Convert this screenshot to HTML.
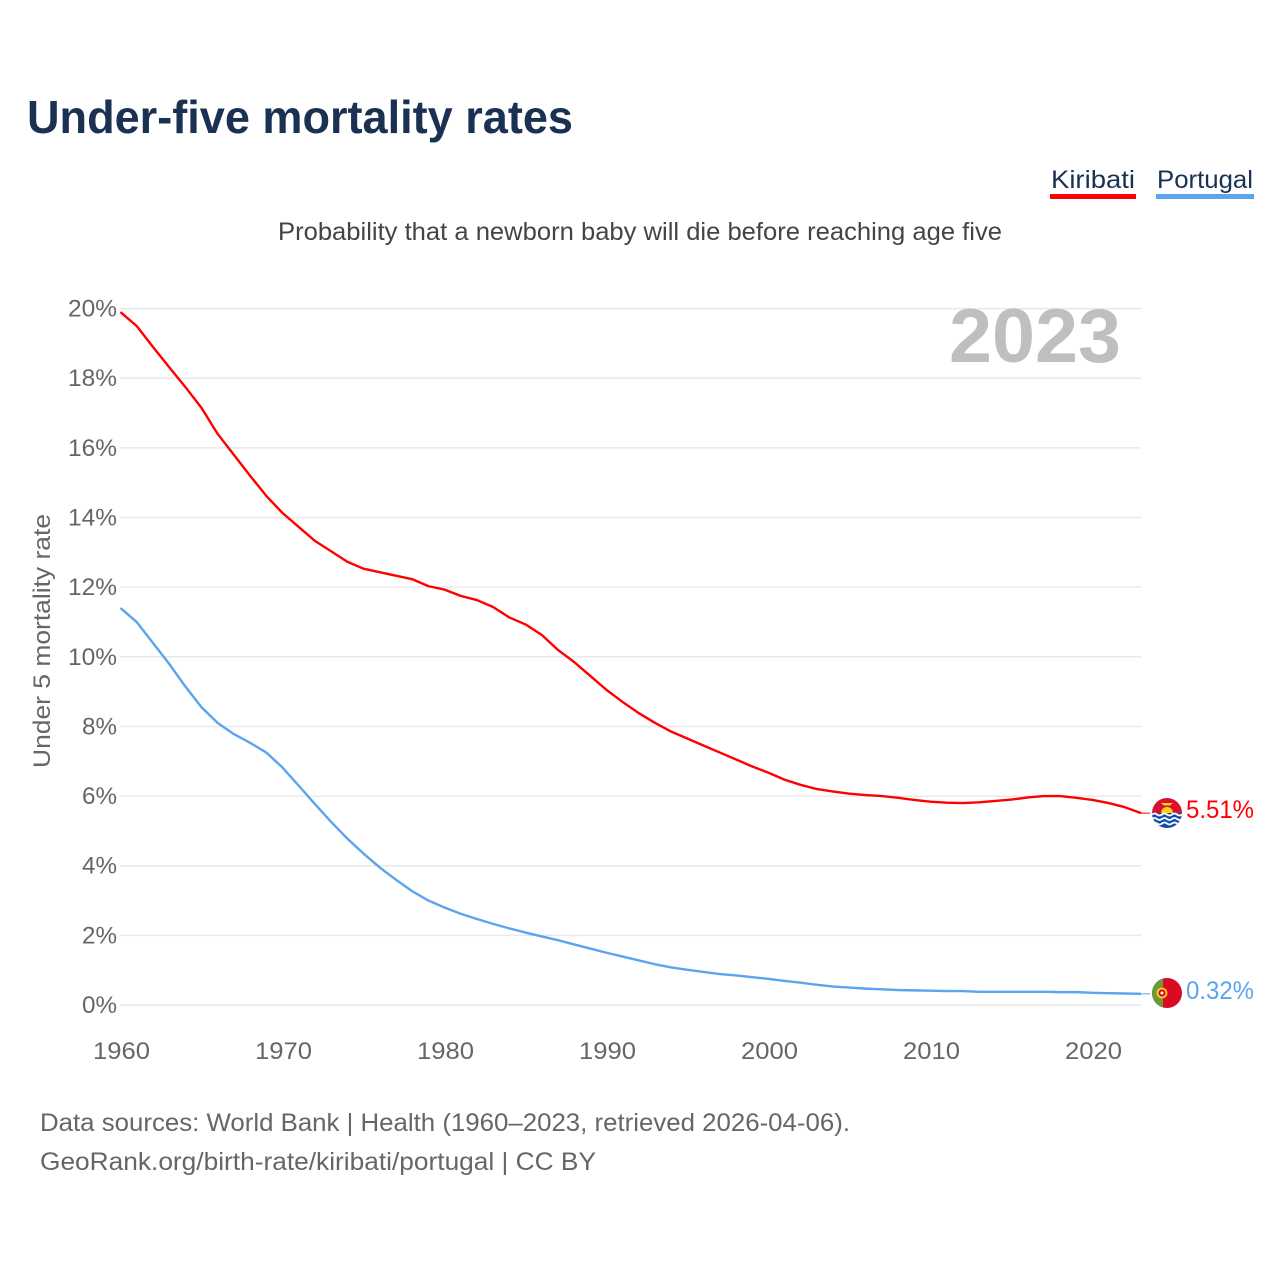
<!DOCTYPE html>
<html lang="en">
<head>
<meta charset="utf-8">
<title>Under-five mortality rates</title>
<style>
html,body{margin:0;padding:0;background:#fff;width:1280px;height:1280px;overflow:hidden}
svg{display:block}
text{font-family:"Liberation Sans",sans-serif}
</style>
</head>
<body>
<svg id="chart" xmlns="http://www.w3.org/2000/svg" width="1280" height="1280" viewBox="0 0 1280 1280">
  <rect width="1280" height="1280" fill="#fff"/>
  <text x="27" y="133" font-size="46" font-weight="700" fill="#1a3152" textLength="546" lengthAdjust="spacingAndGlyphs">Under-five mortality rates</text>
  <text x="1051" y="188" font-size="25" fill="#1a3152" textLength="84" lengthAdjust="spacingAndGlyphs">Kiribati</text>
  <rect x="1050" y="194" width="86" height="5" fill="#ff0000"/>
  <text x="1157" y="188" font-size="25" fill="#1a3152" textLength="96" lengthAdjust="spacingAndGlyphs">Portugal</text>
  <rect x="1156" y="194" width="98" height="5" fill="#5ba4ee"/>
  <text x="278" y="240" font-size="25" fill="#444" textLength="724" lengthAdjust="spacingAndGlyphs">Probability that a newborn baby will die before reaching age five</text>
  <g id="grid"></g>
  <g id="yticks"></g>
  <g id="xticks"></g>
  <text transform="translate(50,641) rotate(-90)" text-anchor="middle" font-size="24" fill="#666" textLength="254" lengthAdjust="spacingAndGlyphs">Under 5 mortality rate</text>
  <text x="949" y="362" font-size="76" font-weight="700" fill="#bfbfbf" textLength="172" lengthAdjust="spacingAndGlyphs">2023</text>
  <g id="series"></g>

  <g>
    <clipPath id="clipK"><circle cx="1167" cy="813" r="15"/></clipPath>
    <g clip-path="url(#clipK)">
      <rect x="1152" y="798" width="30" height="15" fill="#d9112e"/>
      <circle cx="1167" cy="813" r="6" fill="#fcd116"/>
      <path d="M1161 803h12l-3 2.500h-6z" fill="#fcd116"/>
      <rect x="1152" y="813" width="30" height="16" fill="#0f4fa8"/>
      <path d="M1152 814.500q2.500-2 5 0t5 0 5 0 5 0 5 0 5 0M1152 819q2.500-2 5 0t5 0 5 0 5 0 5 0 5 0M1152 823.500q2.500-2 5 0t5 0 5 0 5 0 5 0 5 0" fill="none" stroke="#fff" stroke-width="1.800"/>
    </g>
  </g>
  <g>
    <clipPath id="clipP"><circle cx="1167" cy="993" r="15"/></clipPath>
    <g clip-path="url(#clipP)">
      <rect x="1152" y="978" width="30" height="30" fill="#da0a24"/>
      <rect x="1152" y="978" width="11" height="30" fill="#6a9a3a"/>
      <circle cx="1162" cy="993" r="4.500" fill="#da0a24" stroke="#fcd116" stroke-width="1.800"/>
      <circle cx="1162" cy="993" r="1.500" fill="#fff"/>
    </g>
  </g>
  <text id="valK" x="1186" y="818" font-size="25" fill="#ff0000" textLength="68" lengthAdjust="spacingAndGlyphs"></text>
  <text id="valP" x="1186" y="999" font-size="25" fill="#5ba4ee" textLength="68" lengthAdjust="spacingAndGlyphs"></text>

  <text x="40" y="1131" font-size="25" fill="#666" textLength="810" lengthAdjust="spacingAndGlyphs">Data sources: World Bank | Health (1960–2023, retrieved 2026-04-06).</text>
  <text x="40" y="1170" font-size="25" fill="#666" textLength="556" lengthAdjust="spacingAndGlyphs">GeoRank.org/birth-rate/kiribati/portugal | CC BY</text>
</svg>
<script>
const firstYear = 1960;
const yTicks = [0, 2, 4, 6, 8, 10, 12, 14, 16, 18, 20];
const xTicks = [1960, 1970, 1980, 1990, 2000, 2010, 2020];
const kiribati = [19.9,19.5,18.9,18.32,17.75,17.15,16.4,15.8,15.2,14.62,14.13,13.73,13.33,13.03,12.73,12.53,12.43,12.33,12.23,12.03,11.93,11.75,11.63,11.43,11.13,10.93,10.63,10.2,9.85,9.45,9.05,8.7,8.38,8.1,7.85,7.65,7.45,7.25,7.05,6.85,6.67,6.47,6.32,6.2,6.13,6.07,6.03,6.0,5.95,5.89,5.84,5.81,5.8,5.82,5.86,5.9,5.96,6.0,6.0,5.95,5.89,5.8,5.68,5.51];
const portugal = [11.4,11.0,10.4,9.8,9.15,8.55,8.1,7.78,7.53,7.25,6.82,6.3,5.77,5.26,4.78,4.35,3.95,3.6,3.27,3.0,2.8,2.62,2.47,2.33,2.2,2.08,1.97,1.86,1.74,1.62,1.5,1.39,1.28,1.17,1.08,1.01,0.95,0.89,0.85,0.8,0.75,0.69,0.64,0.58,0.53,0.5,0.47,0.45,0.43,0.42,0.41,0.4,0.4,0.38,0.38,0.38,0.38,0.38,0.37,0.37,0.35,0.34,0.33,0.32];

const NS = 'http://www.w3.org/2000/svg';
const xScale = function (year) { return 120.5 + (year - firstYear) * 16.2; };
const yScale = function (v) { return 1005 - v * 34.82; };
const plotRight = xScale(firstYear + kiribati.length - 1);

const gridGroup = document.getElementById('grid');
const yGroup = document.getElementById('yticks');
const xGroup = document.getElementById('xticks');
const seriesGroup = document.getElementById('series');

yTicks.forEach(function (t) {
  const line = document.createElementNS(NS, 'line');
  
  
  line.setAttribute('x1', 120);
  line.setAttribute('x2', plotRight);
  line.setAttribute('y1', yScale(t));
  line.setAttribute('y2', yScale(t));
  line.setAttribute('stroke', '#e9e9e9');
  line.setAttribute('stroke-width', '1.500');
  gridGroup.appendChild(line);

  const label = document.createElementNS(NS, 'text');
  
  
  const str = t + '%';
  label.textContent = str;
  const w = 21 + 14 * (str.length - 1);
  label.setAttribute('x', 117 - w);
  label.setAttribute('y', yScale(t) + 8);
  label.setAttribute('font-size', '24');
  label.setAttribute('fill', '#666');
  label.setAttribute('textLength', w);
  label.setAttribute('lengthAdjust', 'spacingAndGlyphs');
  yGroup.appendChild(label);
});

xTicks.forEach(function (t) {
  const label = document.createElementNS(NS, 'text');
  
  
  label.textContent = t;
  label.setAttribute('x', xScale(t) - 27.500);
  label.setAttribute('y', 1059);
  label.setAttribute('font-size', '24');
  label.setAttribute('fill', '#666');
  label.setAttribute('textLength', '57');
  label.setAttribute('lengthAdjust', 'spacingAndGlyphs');
  xGroup.appendChild(label);
});

function pathFor(values) {
  return values.map(function (v, i) {
    return (i ? 'L' : 'M') + xScale(firstYear + i).toFixed(2) + ' ' + yScale(v).toFixed(2);
  }).join(' ');
}

const lineK = document.createElementNS(NS, 'path');


lineK.setAttribute('d', pathFor(kiribati));
lineK.setAttribute('fill', 'none');
lineK.setAttribute('stroke', '#ff0000');
lineK.setAttribute('stroke-width', '2.400');
lineK.setAttribute('stroke-linejoin', 'round');
seriesGroup.appendChild(lineK);

const lineP = document.createElementNS(NS, 'path');


lineP.setAttribute('d', pathFor(portugal));
lineP.setAttribute('fill', 'none');
lineP.setAttribute('stroke', '#5ba4ee');
lineP.setAttribute('stroke-width', '2.400');
lineP.setAttribute('stroke-linejoin', 'round');
seriesGroup.appendChild(lineP);

const connK = document.createElementNS(NS, 'line');


connK.setAttribute('x1', plotRight);
connK.setAttribute('x2', plotRight + 9);
connK.setAttribute('y1', yScale(kiribati[kiribati.length - 1]));
connK.setAttribute('y2', yScale(kiribati[kiribati.length - 1]));
connK.setAttribute('stroke', '#ff0000');
connK.setAttribute('stroke-width', '1');
seriesGroup.appendChild(connK);

const connP = document.createElementNS(NS, 'line');


connP.setAttribute('x1', plotRight);
connP.setAttribute('x2', plotRight + 9);
connP.setAttribute('y1', yScale(portugal[portugal.length - 1]));
connP.setAttribute('y2', yScale(portugal[portugal.length - 1]));
connP.setAttribute('stroke', '#5ba4ee');
connP.setAttribute('stroke-width', '1');
seriesGroup.appendChild(connP);

document.getElementById('valK').textContent = kiribati[kiribati.length - 1].toFixed(2) + '%';
document.getElementById('valP').textContent = portugal[portugal.length - 1].toFixed(2) + '%';
</script>
</body>
</html>
